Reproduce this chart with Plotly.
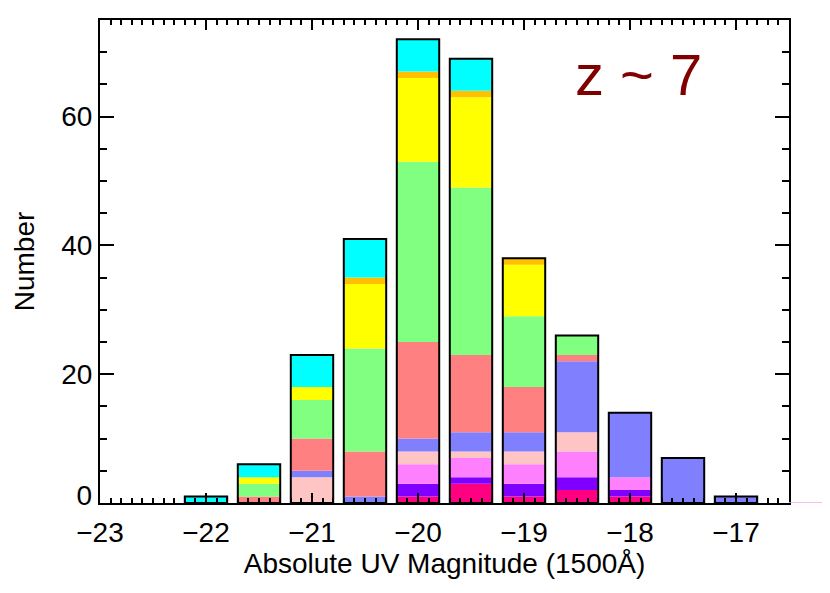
import numpy as np
import plotly.graph_objects as go

# bin centres (absolute UV magnitude)
mag = [-22.0, -21.5, -21.0, -20.5, -20.0, -19.5, -19.0, -18.5, -18.0, -17.5, -17.0]

# stacked counts per sample, bottom to top
deep_pink  = [0, 0, 0, 0, 1, 3, 1, 2, 1, 0, 0]
purple     = [0, 0, 0, 0, 2, 1, 2, 2, 1, 0, 0]
magenta    = [0, 0, 0, 0, 3, 3, 3, 4, 2, 0, 0]
pale_pink  = [0, 0, 4, 0, 2, 1, 2, 3, 0, 0, 0]
periwinkle = [0, 0, 1, 1, 2, 3, 3, 11, 10, 7, 1]
salmon     = [0, 1, 5, 7, 15, 12, 7, 1, 0, 0, 0]
green      = [0, 2, 6, 16, 28, 26, 11, 3, 0, 0, 0]
yellow     = [0, 1, 2, 10, 13, 14, 8, 0, 0, 0, 0]
orange     = [0, 0, 0, 1, 1, 1, 1, 0, 0, 0, 0]
cyan       = [1, 2, 5, 6, 5, 5, 0, 0, 0, 0, 0]

y_ticks = [0, 20, 40, 60]

layers = [
    (deep_pink, "#FF0080"),
    (purple, "#8000FF"),
    (magenta, "#FF80FF"),
    (pale_pink, "#FFC4C4"),
    (periwinkle, "#8080FF"),
    (salmon, "#FF8080"),
    (green, "#80FF80"),
    (yellow, "#FFFF00"),
    (orange, "#FFC000"),
    (cyan, "#00FFFF"),
]

bar_w = 0.4
fig = go.Figure()

base = np.zeros(len(mag))
for vals, col in layers:
    v = np.array(vals, dtype=float)
    fig.add_trace(go.Bar(x=mag, y=v, base=base.copy(), width=bar_w,
                         marker=dict(color=col, line=dict(width=0)),
                         showlegend=False, hoverinfo="skip"))
    base = base + v

# black outline round each full bar
fig.add_trace(go.Bar(x=mag, y=base, width=bar_w,
                     marker=dict(color="rgba(0,0,0,0)", line=dict(color="black", width=2)),
                     showlegend=False, hoverinfo="skip"))

# dummy trace so the second y axis (only the raised "0" label) is drawn
fig.add_trace(go.Scatter(x=[mag[0]], y=[0], yaxis="y2", mode="markers",
                         marker=dict(opacity=0), showlegend=False, hoverinfo="skip"))

fig.add_annotation(x=-17.92, y=66.5, text="z ~ 7", showarrow=False,
                   font=dict(size=58, color="#800000", family="Liberation Sans, Arial"))

# stray pink line to the right of the frame
fig.add_shape(type="line", xref="paper", yref="y", x0=1, x1=1.2, y0=0, y1=0,
              line=dict(color="#F0A8E8", width=1.5))

font = dict(family="Liberation Sans, Arial", size=28, color="black")

# page body adds 8px margin, so the figure is 8px smaller
fig.update_layout(
    width=822, height=585,
    barmode="overlay",
    plot_bgcolor="white", paper_bgcolor="white",
    margin=dict(l=92, r=41, t=10, b=90),
    font=font,
    xaxis=dict(
        range=[-23, -16.5], tickmode="linear", tick0=-23, dtick=1,
        ticks="inside", ticklen=10, tickwidth=1.5, tickcolor="black",
        minor=dict(dtick=0.1, ticks="inside", ticklen=5, tickwidth=1.5, tickcolor="black"),
        showline=True, linecolor="black", linewidth=2, mirror="ticks",
        showgrid=False, zeroline=False, ticklabelstandoff=3,
        title=dict(text="Absolute UV Magnitude (1500Å)", font=font, standoff=6),
        tickfont=font,
    ),
    yaxis=dict(
        range=[0, 75], tickmode="array", tickvals=y_ticks,
        ticktext=[""] + [str(t) for t in y_ticks[1:]],
        ticks="inside", ticklen=14, tickwidth=1.5, tickcolor="black",
        minor=dict(dtick=5, ticks="inside", ticklen=7, tickwidth=1.5, tickcolor="black"),
        showline=True, linecolor="black", linewidth=2, mirror="ticks",
        showgrid=False, zeroline=False,
        title=dict(text="Number", font=font, standoff=18),
        tickfont=font,
    ),
    yaxis2=dict(
        range=[0, 75], overlaying="y", side="left", tickmode="array",
        tickvals=y_ticks[:1], ticktext=[str(y_ticks[0])],
        ticks="", showline=False, showgrid=False, zeroline=False,
        ticklabelshift=-8, ticklabelstandoff=7, tickfont=font,
    ),
)

fig.write_html("out.html")
